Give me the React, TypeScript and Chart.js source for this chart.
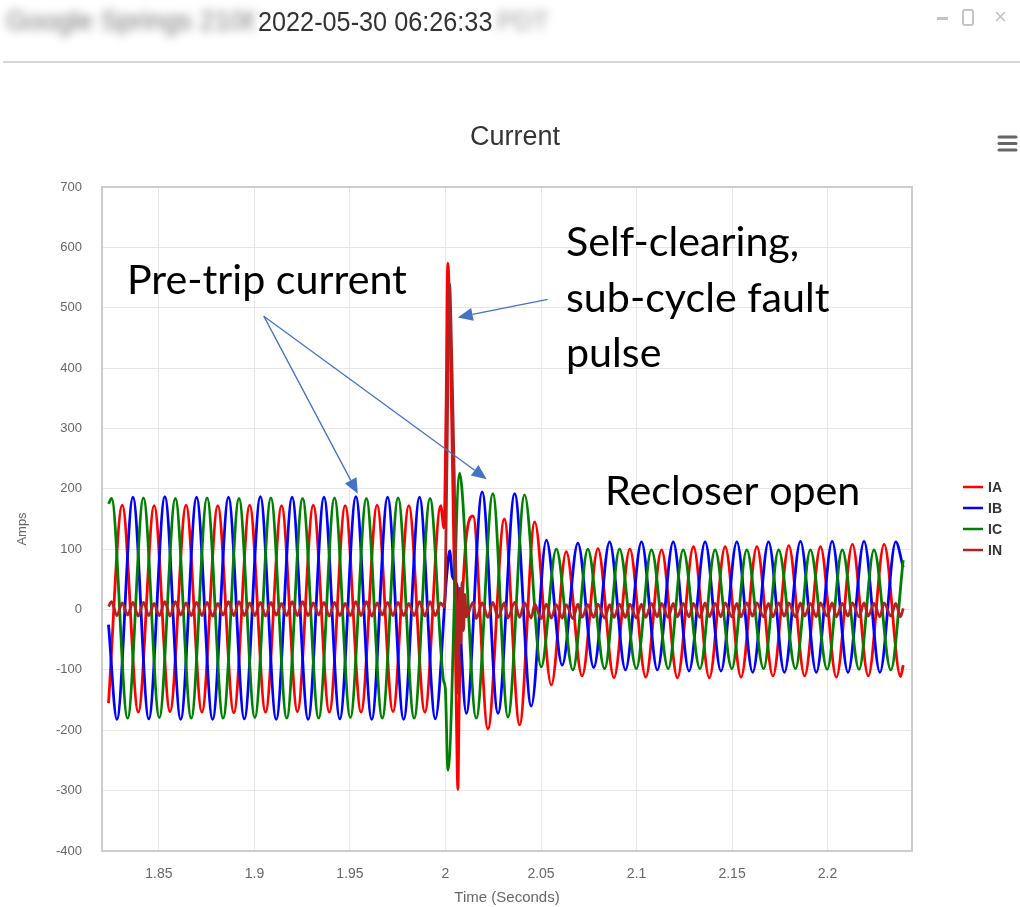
import React, { useEffect, useRef } from 'react';
import { Chart, registerables } from 'chart.js';

Chart.register(...registerables);

// ---------------- data ----------------
const seriesNames = ['IA', 'IB', 'IC', 'IN'];
const seriesColors = ['#ff0000', '#0000ff', '#008000', '#b22222'];

const X_MIN = 1.8202;
const X_MAX = 2.2442;
const Y_MIN = -400;
const Y_MAX = 700;
const xTickValues = [1.85, 1.9, 1.95, 2, 2.05, 2.1, 2.15, 2.2];
const xTickLabels = ['1.85', '1.9', '1.95', '2', '2.05', '2.1', '2.15', '2.2'];
const yTickValues = [-400, -300, -200, -100, 0, 100, 200, 300, 400, 500, 600, 700];
const yTickLabels = ['-400', '-300', '-200', '-100', '0', '100', '200', '300', '400', '500', '600', '700'];

// IA: peaks / troughs (time in s, current in A)
const iaTime = [
  1.8236, 1.8308, 1.8392, 1.8475, 1.8558, 1.8642, 1.8725, 1.8808, 1.8892, 1.8975, 1.9058,
  1.9142, 1.9225, 1.9308, 1.9392, 1.9475, 1.9558, 1.9642, 1.9725, 1.9808, 1.9892, 1.9975,
  1.9992, 2.0003, 2.0012, 2.0018, 2.0026, 2.0036, 2.0046, 2.0056, 2.0065, 2.0072,
  2.0144, 2.0222, 2.0308, 2.0388, 2.0467, 2.0554, 2.0632, 2.0715, 2.0798, 2.0882,
  2.0965, 2.1048, 2.1131, 2.1214, 2.1298, 2.1381, 2.1464, 2.1547, 2.1630, 2.1714,
  2.1797, 2.1880, 2.1963, 2.2046, 2.2130, 2.2213, 2.2296, 2.2382, 2.2396,
];
const iaAmps = [
  -155, 173, -170, 172, -169, 173, -170, 172, -171, 173, -170,
  172, -169, 173, -170, 172, -170, 173, -169, 172, -170, 172,
  135, 330, 574, 540, 430, 250, 60, -150, -298, -150,
  155, -198, 150, -191, 145, -125, 96, -110, 101, -113,
  100, -112, 99, -113, 104, -113, 104, -112, 104, -110,
  106, -110, 104, -112, 108, -110, 108, -111, -92,
];

// IB
const ibTime = [
  1.8236, 1.8280, 1.8364, 1.8447, 1.8531, 1.8614, 1.8697, 1.8781, 1.8864, 1.8947, 1.9031,
  1.9114, 1.9197, 1.9281, 1.9364, 1.9447, 1.9531, 1.9614, 1.9697, 1.9781, 1.9864, 1.9947,
  2.0008, 2.0022, 2.0036, 2.0060,
  2.0109, 2.0192, 2.0275, 2.0362, 2.0449, 2.0528, 2.0611, 2.0693, 2.0776, 2.0859,
  2.0942, 2.1026, 2.1109, 2.1192, 2.1275, 2.1359, 2.1442, 2.1525, 2.1608, 2.1691,
  2.1774, 2.1858, 2.1941, 2.2024, 2.2107, 2.2191, 2.2274, 2.2357, 2.2396,
];
const ibAmps = [
  -25, -182, 186, -181, 187, -182, 186, -182, 186, -181, 187,
  -182, 186, -182, 186, -181, 187, -182, 186, -182, 186, -181,
  62, 97, 55, 40,
  -172, 195, -172, 192, -160, 115, -92, 110, -96, 112,
  -100, 112, -100, 112, -102, 112, -102, 112, -104, 112,
  -104, 113, -104, 113, -104, 113, -104, 112, 70,
];

// IC
const icTime = [
  1.8236, 1.8252, 1.8336, 1.8419, 1.8502, 1.8586, 1.8669, 1.8752, 1.8836, 1.8919, 1.9002,
  1.9086, 1.9169, 1.9252, 1.9336, 1.9419, 1.9502, 1.9586, 1.9669, 1.9752, 1.9836, 1.9919,
  1.9990, 1.9999, 2.0013,
  2.0074, 2.0086, 2.0161, 2.0248, 2.0327, 2.0414, 2.0501, 2.0580, 2.0667, 2.0745,
  2.0833, 2.0911, 2.0999, 2.1078, 2.1166, 2.1244, 2.1332, 2.1411, 2.1499, 2.1577,
  2.1665, 2.1744, 2.1832, 2.1910, 2.1998, 2.2077, 2.2165, 2.2243, 2.2331, 2.2396,
];
const icAmps = [
  175, 184, -180, 185, -179, 184, -180, 185, -180, 184, -179,
  185, -180, 184, -180, 185, -179, 184, -180, 185, -180, 184,
  -118, -130, -266,
  226, 200, -180, 192, -178, 190, -95, 100, -100, 100,
  -98, 100, -98, 99, -98, 99, -98, 99, -98, 99,
  -98, 99, -98, 99, -99, 99, -99, 99, -100, 82,
];

// IN (neutral)
const inTime = [
  1.8236,
  1.8252, 1.8280, 1.8308, 1.8336, 1.8364, 1.8392,
  1.8419, 1.8447, 1.8475, 1.8502, 1.8531, 1.8558,
  1.8586, 1.8614, 1.8642, 1.8669, 1.8697, 1.8725,
  1.8752, 1.8781, 1.8808, 1.8836, 1.8864, 1.8892,
  1.8919, 1.8947, 1.8975, 1.9002, 1.9031, 1.9058,
  1.9086, 1.9114, 1.9142, 1.9169, 1.9197, 1.9225,
  1.9252, 1.9281, 1.9308, 1.9336, 1.9364, 1.9392,
  1.9419, 1.9447, 1.9475, 1.9502, 1.9531, 1.9558,
  1.9586, 1.9614, 1.9642, 1.9669, 1.9697, 1.9725,
  1.9752, 1.9781, 1.9808, 1.9836, 1.9864, 1.9892,
  1.9919, 1.9947, 1.9975,
  1.9994, 2.0008, 2.0019, 2.0025, 2.0034, 2.0046, 2.0055, 2.0062, 2.0068, 2.0074, 2.0080, 2.0087, 2.0094, 2.0101,
  2.0109, 2.0144, 2.0161, 2.0192, 2.0222, 2.0248,
  2.0275, 2.0308, 2.0327, 2.0362, 2.0388, 2.0414,
  2.0449, 2.0467, 2.0501, 2.0528, 2.0554, 2.0580,
  2.0611, 2.0632, 2.0667, 2.0693, 2.0715, 2.0745,
  2.0776, 2.0798, 2.0833, 2.0859, 2.0882, 2.0911,
  2.0942, 2.0965, 2.0999, 2.1026, 2.1048, 2.1078,
  2.1109, 2.1131, 2.1166, 2.1192, 2.1214, 2.1244,
  2.1275, 2.1298, 2.1332, 2.1359, 2.1381, 2.1411,
  2.1442, 2.1464, 2.1499, 2.1525, 2.1547, 2.1577,
  2.1608, 2.1630, 2.1665, 2.1691, 2.1714, 2.1744,
  2.1774, 2.1797, 2.1832, 2.1858, 2.1880, 2.1910,
  2.1941, 2.1963, 2.1998, 2.2024, 2.2046, 2.2077,
  2.2107, 2.2130, 2.2165, 2.2191, 2.2213, 2.2243,
  2.2274, 2.2296, 2.2331, 2.2357, 2.2382, 2.2396,
];
const inAmps = [
  5,
  13, -10, 11, -9, 12, -11,
  12, -10, 10, -10, 13, -11,
  13, -9, 11, -10, 12, -10,
  12, -11, 10, -9, 13, -10,
  13, -10, 11, -10, 12, -11,
  12, -9, 10, -10, 13, -10,
  13, -10, 11, -9, 12, -11,
  12, -10, 10, -10, 13, -10,
  13, -11, 11, -9, 12, -10,
  12, -10, 10, -10, 13, -11,
  13, -10, 11,
  4, 250, 540, 520, 400, 220, 40, -60, -140, 35, -55, 45, -35, 25,
  -12, 12, -15, 11, -13, 12,
  -13, 11, -14, 12, -13, 11,
  -14, 9, -15, 9, -14, 8,
  -14, 8, -15, 9, -13, 8,
  -13, 9, -14, 8, -13, 9,
  -13, 9, -14, 9, -13, 10,
  -12, 10, -13, 10, -12, 10,
  -12, 10, -13, 11, -12, 10,
  -12, 11, -12, 10, -12, 11,
  -11, 11, -12, 10, -12, 11,
  -11, 11, -12, 11, -11, 10,
  -12, 11, -11, 11, -12, 10,
  -11, 11, -12, 11, -11, 10,
  -12, 11, -11, 10, -12, 2,
];

const seriesTimes = [iaTime, ibTime, icTime, inTime];
const seriesAmps = [iaAmps, ibAmps, icAmps, inAmps];

// annotation arrows (data coordinates: [time, amps])
const arrowFrom = [[1.9049, 486], [1.9049, 486], [2.0535, 514]];
const arrowTo = [[1.9541, 192], [2.0216, 216], [2.0064, 484]];

const FONT = "'Liberation Sans', Arial, sans-serif";
const NOTE_FONT = "Lato, 'Open Sans', sans-serif";

function drawArrow(ctx: CanvasRenderingContext2D, x1: number, y1: number, x2: number, y2: number) {
  const ang = Math.atan2(y2 - y1, x2 - x1);
  const L = 15;
  const W = 6.5;
  const bx = x2 - L * Math.cos(ang);
  const by = y2 - L * Math.sin(ang);
  ctx.beginPath();
  ctx.moveTo(x1, y1);
  ctx.lineTo(bx, by);
  ctx.stroke();
  ctx.beginPath();
  ctx.moveTo(x2, y2);
  ctx.lineTo(bx + W * Math.sin(ang), by - W * Math.cos(ang));
  ctx.lineTo(bx - W * Math.sin(ang), by + W * Math.cos(ang));
  ctx.closePath();
  ctx.fill();
}

const decorPlugin = {
  id: 'decor',
  beforeDatasetsDraw(chart: any) {
    const { ctx, chartArea: a } = chart;
    ctx.save();
    ctx.strokeStyle = '#cccccc';
    ctx.lineWidth = 2;
    ctx.strokeRect(a.left, a.top, a.right - a.left, a.bottom - a.top);
    ctx.restore();
  },
  afterDraw(chart: any) {
    const { ctx } = chart;
    const xs = chart.scales.x;
    const ys = chart.scales.y;
    ctx.save();

    // title
    ctx.fillStyle = '#333333';
    ctx.font = `27px ${FONT}`;
    ctx.textAlign = 'center';
    ctx.textBaseline = 'middle';
    ctx.fillText('Current', 515, 138);

    // menu icon
    ctx.strokeStyle = '#666666';
    ctx.lineWidth = 3;
    ctx.lineCap = 'round';
    [137, 143.5, 150].forEach((y) => {
      ctx.beginPath();
      ctx.moveTo(999, y);
      ctx.lineTo(1016, y);
      ctx.stroke();
    });
    ctx.lineCap = 'butt';

    // y axis title
    ctx.save();
    ctx.translate(22, 529);
    ctx.rotate(-Math.PI / 2);
    ctx.fillStyle = '#666666';
    ctx.font = `13px ${FONT}`;
    ctx.textAlign = 'center';
    ctx.textBaseline = 'middle';
    ctx.fillText('Amps', 0, 0);
    ctx.restore();

    // legend
    seriesNames.forEach((name, i) => {
      const y = 487 + i * 21;
      ctx.strokeStyle = seriesColors[i];
      ctx.lineWidth = 2.5;
      ctx.beginPath();
      ctx.moveTo(963, y);
      ctx.lineTo(983, y);
      ctx.stroke();
      ctx.fillStyle = '#333333';
      ctx.font = `bold 14px ${FONT}`;
      ctx.textAlign = 'left';
      ctx.textBaseline = 'middle';
      ctx.fillText(name, 988, y + 1);
    });

    // annotation text
    ctx.font = `36px ${NOTE_FONT}`;
    const w = ctx.measureText('Pre-trip current').width;
    const size = (36 * 280) / w;
    ctx.font = `${size}px ${NOTE_FONT}`;
    ctx.fillStyle = '#000000';
    ctx.textAlign = 'left';
    ctx.textBaseline = 'alphabetic';
    ctx.fillText('Pre-trip current', 127, 294);
    ctx.fillText('Self-clearing,', 566, 256);
    ctx.fillText('sub-cycle fault', 566, 312);
    ctx.fillText('pulse', 566, 367);
    ctx.fillText('Recloser open', 605, 505);

    // arrows
    ctx.strokeStyle = '#4472c4';
    ctx.fillStyle = '#4472c4';
    ctx.lineWidth = 1.3;
    arrowFrom.forEach((f, i) => {
      const t = arrowTo[i];
      drawArrow(
        ctx,
        xs.getPixelForValue(f[0]),
        ys.getPixelForValue(f[1]),
        xs.getPixelForValue(t[0]),
        ys.getPixelForValue(t[1])
      );
    });
    ctx.restore();
  },
};

export default function App() {
  const ref = useRef<HTMLCanvasElement | null>(null);

  useEffect(() => {
    const canvas = ref.current;
    if (!canvas) return;
    const datasets = seriesNames.map((name, i) => {
      const times = seriesTimes[i];
      const amps = seriesAmps[i];
      const n = Math.min(times.length, amps.length);
      const data = [] as { x: number; y: number }[];
      for (let k = 0; k < n; k++) data.push({ x: times[k], y: amps[k] });
      return {
        label: name,
        data,
        borderColor: seriesColors[i],
        backgroundColor: seriesColors[i],
        borderWidth: 2.8,
        pointRadius: 0,
        fill: false,
        cubicInterpolationMode: 'monotone' as const,
        order: seriesNames.length - i,
      };
    });

    const chart = new Chart(canvas, {
      type: 'line',
      data: { datasets },
      options: {
        responsive: false,
        animation: false,
        devicePixelRatio: 1,
        events: [],
        layout: { padding: { left: 0, right: 108, top: 187, bottom: 0 } },
        plugins: {
          legend: { display: false },
          tooltip: { enabled: false },
          title: { display: false },
        },
        scales: {
          x: {
            type: 'linear',
            min: X_MIN,
            max: X_MAX,
            afterBuildTicks: (s: any) => {
              s.ticks = xTickValues.map((v) => ({ value: v }));
            },
            afterFit: (s: any) => {
              s.height = 56;
            },
            ticks: {
              autoSkip: false,
              maxRotation: 0,
              padding: 15,
              color: '#666666',
              font: { family: FONT, size: 14 },
              callback: (_v: any, idx: number) => xTickLabels[idx],
            },
            grid: { color: '#e6e6e6', lineWidth: 1, drawTicks: false },
            border: { display: false },
            title: {
              display: true,
              text: 'Time (Seconds)',
              color: '#666666',
              font: { family: FONT, size: 15 },
              padding: { top: 0, bottom: 0 },
            },
          },
          y: {
            type: 'linear',
            min: Y_MIN,
            max: Y_MAX,
            afterBuildTicks: (s: any) => {
              s.ticks = yTickValues.map((v) => ({ value: v }));
            },
            afterFit: (s: any) => {
              s.width = 102;
            },
            ticks: {
              autoSkip: false,
              padding: 20,
              color: '#666666',
              font: { family: FONT, size: 13 },
              callback: (_v: any, idx: number) => yTickLabels[idx],
            },
            grid: { color: '#e6e6e6', lineWidth: 1, drawTicks: false },
            border: { display: false },
          },
        },
      },
      plugins: [decorPlugin],
    } as any);

    return () => chart.destroy();
  }, []);

  const hdrFont = "'Liberation Sans', Arial, sans-serif";

  return (
    <div
      style={{
        position: 'absolute',
        left: 0,
        top: 0,
        width: 1020,
        height: 907,
        background: '#ffffff',
        overflow: 'hidden',
      }}
    >
      <canvas
        ref={ref}
        width={1020}
        height={907}
        style={{ position: 'absolute', left: 0, top: 0, width: 1020, height: 907 }}
      />
      <div
        style={{
          position: 'absolute',
          left: 6,
          top: 4,
          width: 248,
          height: 34,
          fontFamily: hdrFont,
          fontSize: 27,
          lineHeight: '34px',
          color: '#777',
          filter: 'blur(5px)',
          whiteSpace: 'nowrap',
          overflow: 'hidden',
        }}
      >
        Google Springs 2106
      </div>
      <div
        style={{
          position: 'absolute',
          left: 258,
          top: 5,
          fontFamily: hdrFont,
          fontSize: 27,
          lineHeight: '34px',
          color: '#333333',
          whiteSpace: 'nowrap',
          transform: 'scaleX(0.935)',
          transformOrigin: 'left center',
        }}
      >
        2022-05-30 06:26:33
      </div>
      <div
        style={{
          position: 'absolute',
          left: 497,
          top: 4,
          width: 58,
          height: 34,
          fontFamily: hdrFont,
          fontSize: 26,
          lineHeight: '34px',
          color: '#999',
          filter: 'blur(5px)',
          whiteSpace: 'nowrap',
          overflow: 'hidden',
        }}
      >
        PDT
      </div>
      <div
        style={{
          position: 'absolute',
          left: 937,
          top: 17,
          width: 11,
          height: 3,
          background: '#c4c4c4',
        }}
      />
      <div
        style={{
          position: 'absolute',
          left: 962,
          top: 9,
          width: 12,
          height: 17,
          border: '2px solid #c4c4c4',
          borderRadius: 3,
          boxSizing: 'border-box',
        }}
      />
      <div
        style={{
          position: 'absolute',
          left: 994,
          top: 3,
          fontFamily: hdrFont,
          fontSize: 22,
          lineHeight: '28px',
          color: '#c4c4c4',
        }}
      >
        ×
      </div>
      <div
        style={{
          position: 'absolute',
          left: 3,
          top: 61,
          width: 1017,
          height: 2,
          background: '#d6d6d6',
        }}
      />
    </div>
  );
}
